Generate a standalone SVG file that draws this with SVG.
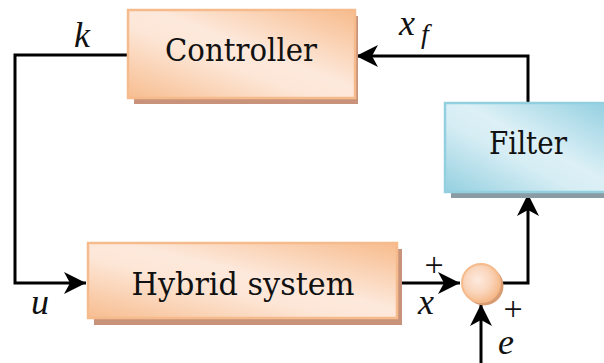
<svg xmlns="http://www.w3.org/2000/svg" width="604" height="363" viewBox="0 0 604 363">
  <style>
    .lbl { font-family: "DejaVu Serif", "Liberation Serif", serif; font-size: 31px; fill: #111; }
    .math { font-family: "Liberation Serif", "DejaVu Serif", serif; font-style: italic; fill: #111; }
    .sign { font-family: "Liberation Serif", "DejaVu Serif", serif; fill: #111; }
    .wire { fill: none; stroke: #000; stroke-width: 3; }
    .obox { fill: url(#og); stroke: #f6bb8c; stroke-width: 2.5; }
    .oshadow { fill: #c8937a; }
    .bbox { fill: url(#bg); stroke: #92d0df; stroke-width: 2.5; }
    .bshadow { fill: #8a9ba4; }
  </style>
  <defs>
    <linearGradient id="og" x1="1" y1="0" x2="0" y2="1">
      <stop offset="0" stop-color="#f7bb8c"/>
      <stop offset="0.45" stop-color="#fde9dc"/>
      <stop offset="0.6" stop-color="#fde6d6"/>
      <stop offset="1" stop-color="#f7bd90"/>
    </linearGradient>
    <linearGradient id="bg" x1="1" y1="0" x2="0" y2="1">
      <stop offset="0" stop-color="#92cfe0"/>
      <stop offset="0.45" stop-color="#dcf0f6"/>
      <stop offset="0.6" stop-color="#d6edf4"/>
      <stop offset="1" stop-color="#94d0e0"/>
    </linearGradient>
    <radialGradient id="cg" cx="0.42" cy="0.42" r="0.6">
      <stop offset="0" stop-color="#fdeadf"/>
      <stop offset="0.55" stop-color="#fad6bd"/>
      <stop offset="1" stop-color="#f6bb8c"/>
    </radialGradient>
    <marker id="arr" markerUnits="userSpaceOnUse" markerWidth="24" markerHeight="24" viewBox="0 0 24 24" refX="22" refY="11" orient="auto">
      <path d="M0,0 L22,11 L0,22 L6,11 Z" fill="#000"/>
    </marker>
  </defs>

  <g id="connectors">
    <polyline class="wire" points="128,55 15,55 15,283 86,283" marker-end="url(#arr)"/>
    <line class="wire" x1="397" y1="283" x2="460" y2="283" marker-end="url(#arr)"/>
    <polyline class="wire" points="500,283 528,283 528,194" marker-end="url(#arr)"/>
    <polyline class="wire" points="528,103 528,56 356,56" marker-end="url(#arr)"/>
    <line class="wire" x1="481" y1="363" x2="481" y2="304" marker-end="url(#arr)"/>
  </g>

  <g id="controller">
    <rect class="oshadow" x="134" y="16" width="224" height="88"/>
    <rect class="obox" x="128" y="10" width="227" height="88"/>
    <text class="lbl" x="241" y="61" text-anchor="middle" textLength="152" lengthAdjust="spacingAndGlyphs">Controller</text>
  </g>

  <g id="filter">
    <rect class="bshadow" x="451" y="109" width="160" height="89"/>
    <rect class="bbox" x="445" y="103" width="165" height="89"/>
    <text class="lbl" x="528" y="154" text-anchor="middle" textLength="78" lengthAdjust="spacingAndGlyphs">Filter</text>
  </g>

  <g id="hybrid">
    <rect class="oshadow" x="94" y="249" width="308" height="76"/>
    <rect class="obox" x="88" y="243" width="309" height="75"/>
    <text class="lbl" x="243" y="295" text-anchor="middle" textLength="223" lengthAdjust="spacingAndGlyphs">Hybrid system</text>
  </g>

  <g id="sum">
    <circle cx="484" cy="286" r="19.5" fill="#d99d74"/>
    <circle cx="481" cy="283" r="19" fill="url(#cg)" stroke="#f6bb8c" stroke-width="2"/>
  </g>

  <g id="labels">
    <text class="math" x="82" y="47" text-anchor="middle" font-size="36">k</text>
    <text class="math" x="407" y="35" text-anchor="middle" font-size="36">x</text>
    <text class="math" x="425" y="43" text-anchor="middle" font-size="28">f</text>
    <text class="math" x="40" y="314" text-anchor="middle" font-size="36">u</text>
    <text class="sign" x="434" y="276" text-anchor="middle" font-size="34">+</text>
    <text class="math" x="426" y="314" text-anchor="middle" font-size="36">x</text>
    <text class="sign" x="513" y="320" text-anchor="middle" font-size="34">+</text>
    <text class="math" x="506" y="354" text-anchor="middle" font-size="36">e</text>
  </g>
</svg>
